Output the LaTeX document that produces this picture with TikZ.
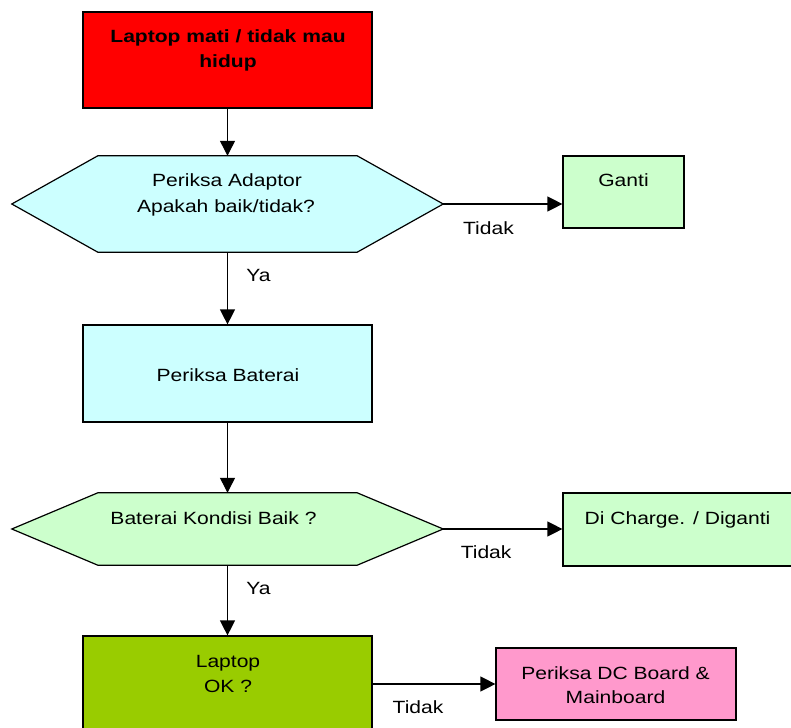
\documentclass[tikz,border=0pt]{standalone}
\usepackage{fontspec}
\setmainfont{Liberation Sans}[FakeStretch=1.19]
\usetikzlibrary{arrows.meta}
\definecolor{cRed}{HTML}{FF0000}
\definecolor{cCyan}{HTML}{CCFFFF}
\definecolor{cMint}{HTML}{CCFFCC}
\definecolor{cOlive}{HTML}{99CC00}
\definecolor{cPink}{HTML}{FF99CC}
\begin{document}
\begin{tikzpicture}[x=1pt,y=-1pt,
  box/.style={draw=black,line width=1.2pt,rectangle,inner sep=0pt},
  anch/.style={rectangle,inner sep=0pt},
  hexline/.style={draw=black,line width=1.2pt},
  txt/.style={inner sep=0pt,anchor=base,font=\fontsize{17.7}{25}\selectfont},
  btxt/.style={txt,font=\fontsize{17.7}{25}\selectfont\bfseries},
  conn/.style={line width=1.2pt,-{Triangle[length=15pt,width=15pt]}}]
\useasboundingbox (0,0) rectangle (791,727);
\clip (0,0) rectangle (791,727);
% boxes
\node[box,fill=cRed,minimum width=289pt,minimum height=96pt] (start) at (227.5,60) {};
\node[box,fill=cMint,minimum width=121pt,minimum height=72pt] (ganti) at (623.5,192) {};
\node[box,fill=cCyan,minimum width=289pt,minimum height=97pt] (bat) at (227.5,373.5) {};
\node[box,fill=cMint,minimum width=233pt,minimum height=73pt] (charge) at (679.5,529.5) {};
\node[box,fill=cOlive,minimum width=289pt,minimum height=96pt] (ok) at (227.5,684) {};
\node[box,fill=cPink,minimum width=240pt,minimum height=72pt] (pink) at (616,684) {};
% hexagons
\node[anch,minimum width=431pt,minimum height=96pt] (h1) at (227.5,204) {};
\filldraw[hexline,fill=cCyan] (h1.west) -- ([xshift=86pt]h1.north west) -- ([xshift=-86pt]h1.north east)
  -- (h1.east) -- ([xshift=-86pt]h1.south east) -- ([xshift=86pt]h1.south west) -- cycle;
\node[anch,minimum width=431pt,minimum height=72pt] (h2) at (227.5,529) {};
\filldraw[hexline,fill=cMint] (h2.west) -- ([xshift=86pt]h2.north west) -- ([xshift=-86pt]h2.north east)
  -- (h2.east) -- ([xshift=-86pt]h2.south east) -- ([xshift=86pt]h2.south west) -- cycle;
% texts
\node[btxt] (t1a) at (228,43) {Laptop mati / tidak mau};
\node[btxt] (t1b) at (228,68) {hidup};
\node[txt] (t2a) at (227,187) {Periksa Adaptor};
\node[txt] (t2b) at (226,212) {Apakah baik/tidak?};
\node[txt] (t3) at (623.5,187) {Ganti};
\node[txt] (t4) at (228,381) {Periksa Baterai};
\node[txt] (t5) at (213.5,524) {Baterai Kondisi Baik ?};
\node[txt] (t6) at (677.5,524) {Di Charge. / Diganti};
\node[txt] (t7a) at (228,667) {Laptop};
\node[txt] (t7b) at (228,692) {OK ?};
\node[txt] (t8a) at (615.5,679) {Periksa DC Board \&};
\node[txt] (t8b) at (615.5,703) {Mainboard};
% connectors
\draw[conn] (start.south) -- (h1.north);
\draw[conn] (h1.east) -- (h1.east -| ganti.west) node[txt,pos=0.38,yshift=-30pt] (l1) {Tidak};
\draw[conn] (h1.south) -- (bat.north) node[txt,pos=0.38,xshift=31pt,yshift=-2pt] (l2) {Ya};
\draw[conn] (bat.south) -- (h2.north);
\draw[conn] (h2.east) -- (h2.east -| charge.west) node[txt,pos=0.36,yshift=-29pt] (l3) {Tidak};
\draw[conn] (h2.south) -- (ok.north) node[txt,pos=0.38,xshift=31pt,yshift=-3pt] (l4) {Ya};
\draw[conn] (ok.east) -- (pink.west) node[txt,pos=0.37,yshift=-29pt] (l5) {Tidak};
\end{tikzpicture}
\end{document}
